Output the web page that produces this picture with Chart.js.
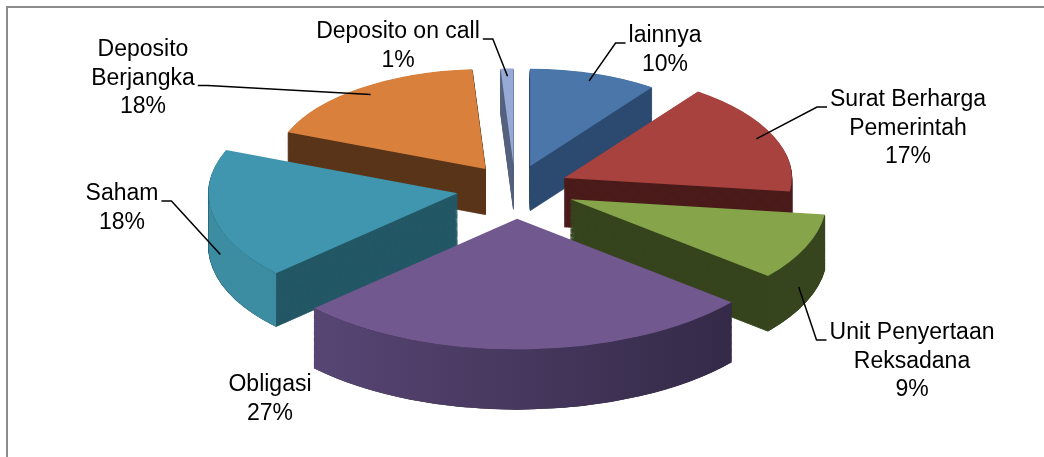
<!DOCTYPE html>
<html>
<head>
<meta charset="utf-8">
<script src="https://cdn.jsdelivr.net/npm/chart.js@4.4.1/dist/chart.umd.min.js"></script>
<style>
  html, body { margin: 0; padding: 0; background: #fff; }
  #wrap { width: 1044px; height: 457px; }
</style>
</head>
<body>
<div id="wrap"><canvas id="myPieChart" width="1044" height="457"></canvas></div>
<script>
// values (%), clockwise from 12 o'clock
const categories = [
  ['lainnya'],
  ['Surat Berharga', 'Pemerintah'],
  ['Unit Penyertaan', 'Reksadana'],
  ['Obligasi'],
  ['Saham'],
  ['Deposito', 'Berjangka'],
  ['Deposito on call']
];
const shares = [10, 17, 9, 27, 18, 18, 1];
const percentLabels = ['10%', '17%', '9%', '27%', '18%', '18%', '1%'];

// colours: top face, cut (radial) face, outer rim
const topColors  = ['#4A76AA', '#A8423F', '#86A44A', '#71588F', '#4096AE', '#D9803C', '#97AAD6'];
const sideColors = ['#2D4B70', '#4A1B1A', '#37451E', '#2F2641', '#245866', '#5A3519', '#55627F'];
const rimColors  = ['#3B6592', '#8A3533', '#4A5E28', '#5E4A7C', '#3C8CA2', '#B86A30', '#7F93BE'];

// label block position relative to pie centre (px), and which line the leader starts at (-1 = none)
const labelPlacement = [
  { dx: 150, dy: -152, leader: 0 },
  { dx: 393, dy: -88, leader: 0 },
  { dx: 397, dy: 145, leader: 0 },
  { dx: -245, dy: 197, leader: -1 },
  { dx: -393, dy: 6, leader: 0 },
  { dx: -372, dy: -138, leader: 1 },
  { dx: -117, dy: -156, leader: 0 }
];

const pie3d = {
  id: 'pie3d',
  beforeDraw(chart) {
    // grey frame of the chart object (only top and left edges are in view)
    const ctx = chart.ctx;
    ctx.save();
    ctx.strokeStyle = '#8c8c8c';
    ctx.lineWidth = 2;
    ctx.beginPath();
    ctx.moveTo(7, 470);
    ctx.lineTo(7, 7);
    ctx.lineTo(1060, 7);
    ctx.stroke();
    ctx.restore();
  },
  beforeDatasetDraw(chart, args, opts) {
    const ctx = chart.ctx;
    const arcs = args.meta.data;
    const midOf = a => (a.startAngle + a.endAngle) / 2;
    // slices nearer the viewer come out a little larger
    const near = a => 1 + opts.perspective * Math.sin(midOf(a));

    const place = (arc, drop) => {
      const f = near(arc);
      const mid = midOf(arc);
      ctx.translate(arc.x, arc.y);
      ctx.scale(f, f);
      ctx.translate(0, drop);
      ctx.scale(1, opts.tilt);
      ctx.translate(-arc.x, -arc.y);
      ctx.translate(Math.cos(mid) * opts.explode, Math.sin(mid) * opts.explode);
    };

    const drawFace = (arc, color, drop, border) => {
      ctx.save();
      place(arc, drop);
      const face = Object.create(arc);
      face.options = Object.assign({}, arc.options, {
        backgroundColor: color,
        borderColor: color,
        borderWidth: border,
        offset: 0
      });
      face.draw(ctx);
      ctx.restore();
    };

    // outer curved wall, only the part that faces the viewer
    const drawRim = (arc, i) => {
      const a0 = Math.max(arc.startAngle, 0);
      const a1 = Math.min(arc.endAngle, Math.PI);
      if (a1 <= a0) return;
      const f = near(arc);
      const mid = midOf(arc);
      const ox = Math.cos(mid) * opts.explode;
      const oy = Math.sin(mid) * opts.explode;
      const R = arc.outerRadius;
      const pt = (a, drop) => [
        arc.x + f * (ox + Math.cos(a) * R),
        arc.y + f * (drop + (oy + Math.sin(a) * R) * opts.tilt)
      ];
      const n = 60;
      ctx.save();
      ctx.beginPath();
      for (let s = 0; s <= n; s++) {
        const p = pt(a0 + (a1 - a0) * s / n, 0);
        s ? ctx.lineTo(p[0], p[1]) : ctx.moveTo(p[0], p[1]);
      }
      for (let s = n; s >= 0; s--) {
        const p = pt(a0 + (a1 - a0) * s / n, opts.depth);
        ctx.lineTo(p[0], p[1]);
      }
      ctx.closePath();
      const g = ctx.createLinearGradient(arc.x - R * f, 0, arc.x + R * f, 0);
      g.addColorStop(0, rimColors[i]);
      g.addColorStop(1, sideColors[i]);
      ctx.fillStyle = g;
      ctx.fill();
      ctx.restore();
    };

    // back slices first
    const order = arcs.map((a, i) => i).sort((p, q) => Math.sin(midOf(arcs[p])) - Math.sin(midOf(arcs[q])));

    order.forEach(i => {
      const arc = arcs[i];
      for (let k = opts.depth; k >= 1; k--) {
        drawFace(arc, sideColors[i], k, 1);
      }
      drawRim(arc, i);
    });
    order.forEach(i => drawFace(arcs[i], topColors[i], 0, 0));
    return false;
  },
  afterDraw(chart, args, opts) {
    const ctx = chart.ctx;
    const arcs = chart.getDatasetMeta(0).data;
    const lineH = 28.5;
    ctx.save();
    ctx.font = '23px "Liberation Sans", Arial, sans-serif';
    ctx.fillStyle = '#000';
    ctx.textAlign = 'center';
    ctx.textBaseline = 'middle';
    ctx.strokeStyle = '#000';
    ctx.lineWidth = 1.5;

    arcs.forEach((arc, i) => {
      const lines = categories[i].concat([percentLabels[i]]);
      const p = labelPlacement[i];
      const lx = arc.x + p.dx;
      const ly = arc.y + p.dy;
      lines.forEach((t, j) => ctx.fillText(t, lx, ly + j * lineH));

      if (p.leader < 0) return;
      // anchor on the slice: top edge for back slices, down the rim for front ones
      const mid = (arc.startAngle + arc.endAngle) / 2;
      const f = 1 + opts.perspective * Math.sin(mid);
      const front = Math.sin(mid) > 0.1;
      const r = arc.outerRadius * (front ? 0.97 : 0.92);
      const ax = arc.x + f * Math.cos(mid) * (opts.explode + r);
      const ay = arc.y + f * (Math.sin(mid) * (opts.explode + r) * opts.tilt + (front ? opts.depth * 0.75 : 0));

      const w = ctx.measureText(lines[p.leader]).width;
      const toRight = ax > lx;
      const sx = toRight ? lx + w / 2 + 3 : lx - w / 2 - 3;
      const sy = ly + p.leader * lineH + 7;
      const ex = toRight ? sx + 10 : sx - 10;
      ctx.beginPath();
      ctx.moveTo(sx, sy);
      ctx.lineTo(ex, sy);
      ctx.lineTo(ax, ay);
      ctx.stroke();
    });
    ctx.restore();
  }
};

const shape = { tilt: 0.47, explode: 57, depth: 52, perspective: 0.15 };

const ctx = document.getElementById('myPieChart').getContext('2d');
new Chart(ctx, {
  type: 'pie',
  data: {
    labels: categories,
    datasets: [{
      data: shares,
      backgroundColor: topColors,
      borderWidth: 0
    }]
  },
  options: {
    responsive: false,
    animation: false,
    radius: 242,
    layout: { padding: { left: 0, right: 14, top: 0, bottom: 81 } },
    plugins: {
      legend: { display: false },
      tooltip: { enabled: false },
      pie3d: shape
    }
  },
  plugins: [pie3d]
});
</script>
</body>
</html>
